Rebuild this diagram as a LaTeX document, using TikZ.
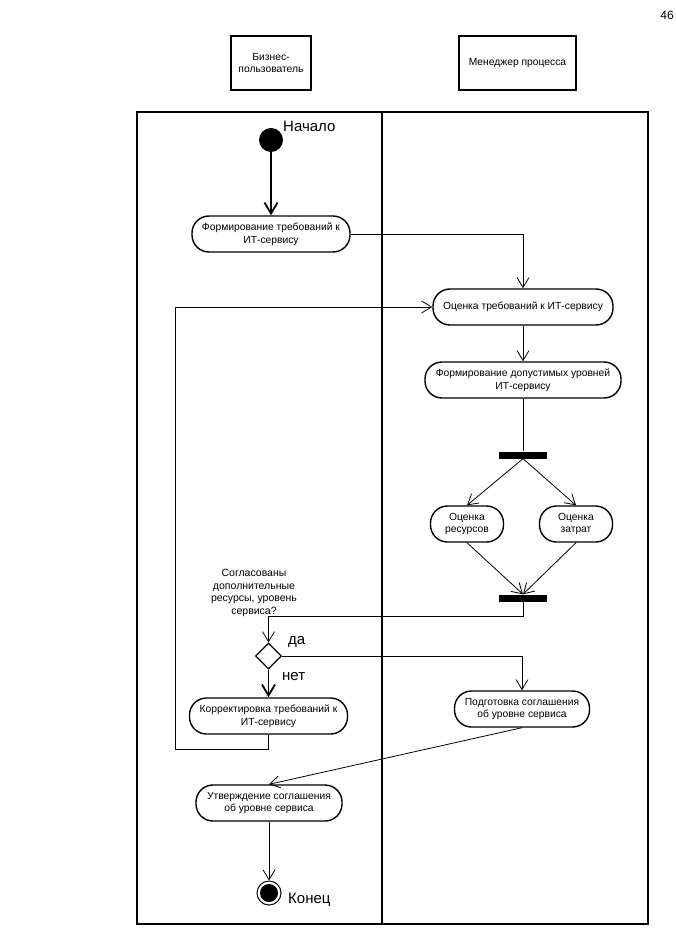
\documentclass[tikz,border=0pt]{standalone}
\usepackage{fontspec}
\setmainfont{Liberation Sans}
\usetikzlibrary{arrows.meta,shapes.geometric}

\begin{document}
\begin{tikzpicture}[x=1pt,y=1pt,
    activity/.style={draw, line width=1.4pt, rounded corners=17pt, minimum height=36pt, align=center, font=\fontsize{10.3}{12.5}\selectfont},
    lane/.style={draw, line width=1.2pt, minimum height=54pt, align=center, font=\fontsize{10.3}{12.5}\selectfont},
    bar/.style={fill=black, minimum width=48pt, minimum height=7pt},
    flow/.style={line width=0.8pt, -{Straight Barb[length=10pt,width=12pt]}},
    bigflow/.style={line width=1.8pt, -{Straight Barb[length=11pt,width=13pt]}},
    big/.style={font=\fontsize{15}{18}\selectfont},
    guardtext/.style={font=\fontsize{10.5}{12.5}\selectfont, align=center}]
    \tikzstyle{every node}+=[inner sep=0pt]
    \useasboundingbox (0,-933) rectangle (675,0);
    \node[anchor=east, font=\fontsize{12}{14}\selectfont] (page) at (674,-15) {46};
    % swimlanes
    \node[lane, minimum width=80pt] (user) at (271,-63) {Бизнес-\\пользователь};
    \node[lane, minimum width=117pt] (manager) at (517.5,-63) {Менеджер процесса};
    \draw [line width=1.4pt] (137,-112) rectangle (648,-924);
    \draw [line width=1.4pt] (382,-112) -- (382,-924);
    % start
    \node[circle, fill=black, minimum size=24pt] (start) at (271,-140) {};
    \node[big, anchor=west] (startlbl) at (283,-126) {Начало};
    % activities
    \node[activity, minimum width=158pt] (req) at (271,-234) {Формирование требований к\\ИТ-сервису};
    \node[activity, minimum width=180pt] (eval) at (523,-307) {Оценка требований к ИТ-сервису};
    \node[activity, minimum width=196pt] (levels) at (523,-380) {Формирование допустимых уровней\\ИТ-сервису};
    \node[bar] (fork) at (523,-455) {};
    \node[activity, minimum width=73pt] (res) at (467,-524) {Оценка\\ресурсов};
    \node[activity, minimum width=73pt] (cost) at (576,-524) {Оценка\\затрат};
    \node[bar] (join) at (523,-598) {};
    % decision
    \node[guardtext] (guard) at (254,-593) {Согласованы\\дополнительные\\ресурсы, уровень\\сервиса?};
    \node[diamond, draw, line width=1.2pt, minimum size=26pt] (dec) at (268.5,-656) {};
    \node[big, anchor=west] (yes) at (288,-642) {да};
    \node[big, anchor=west] (no) at (282,-677) {нет};
    \node[activity, minimum width=158pt] (fix) at (268.5,-716) {Корректировка требований к\\ИТ-сервису};
    \node[activity, minimum width=135pt] (prep) at (522,-709) {Подготовка соглашения\\об уровне сервиса};
    \node[activity, minimum width=146pt] (appr) at (269,-803) {Утверждение соглашения\\об уровне сервиса};
    % end
    \node[circle, draw, line width=1pt, minimum size=24pt,
        path picture={\fill (path picture bounding box.center) circle (9pt);}] (end) at (269,-893) {};
    \node[big, anchor=west] (endlbl) at (288,-900) {Конец};
    % flows
    \draw [bigflow] (start) -- (req);
    \draw [flow] (req.east) -| (eval.north);
    \draw [flow] (eval) -- (levels);
    \draw [line width=0.8pt] (levels) -- (fork);
    \draw [flow] (fork.south) -- (res.north);
    \draw [flow] (fork.south) -- (cost.north);
    \draw [flow] (res.south) -- (join.north);
    \draw [flow] (cost.south) -- (join.north);
    \coordinate (merge) at (523,-616);
    \draw [flow] (join.south) -- (merge) -| (dec.north);
    \draw [flow] (dec.east) -| (prep.north);
    \draw [bigflow] (dec.south) -- (fix.north);
    \coordinate (loop) at (175,-749);
    \draw [flow] (fix.south) |- (loop) |- (eval.west);
    \draw [flow] (prep.south) -- (appr.north);
    \draw [flow] (appr) -- (end);
\end{tikzpicture}
\end{document}
